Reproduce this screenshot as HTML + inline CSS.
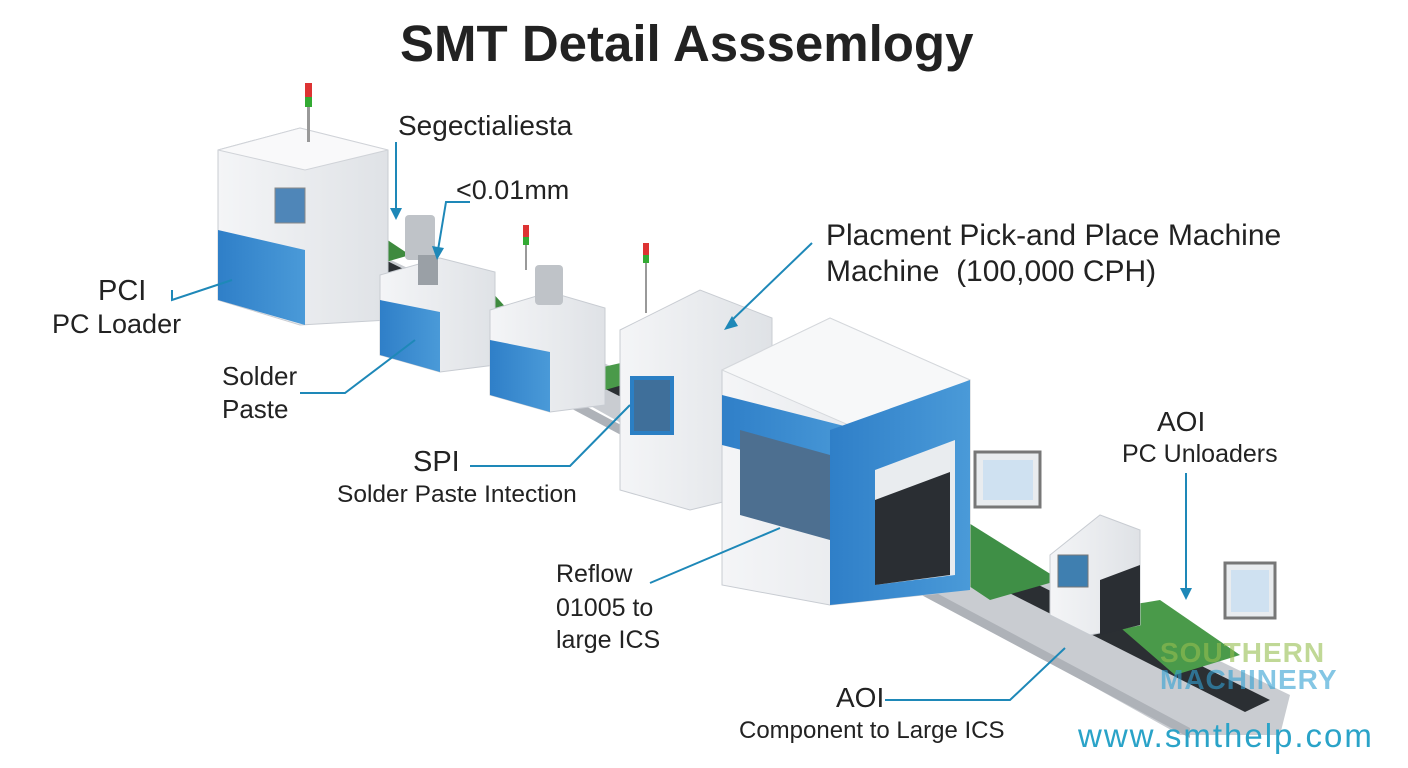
<!DOCTYPE html>
<html><head><meta charset="utf-8"><style>
html,body{margin:0;padding:0;background:#fff;}
#c{position:relative;width:1408px;height:768px;overflow:hidden;font-family:"Liberation Sans","DejaVu Sans",sans-serif;color:#222;}
.t{position:absolute;white-space:nowrap;line-height:1;}
svg{position:absolute;left:0;top:0;}
</style></head><body><div id="c">
<svg width="1408" height="768" viewBox="0 0 1408 768">
<defs>
<linearGradient id="bl" x1="0" x2="1"><stop offset="0" stop-color="#2f7fc8"/><stop offset="1" stop-color="#4a9ad8"/></linearGradient>
<linearGradient id="wh" x1="0" x2="1"><stop offset="0" stop-color="#f4f5f7"/><stop offset="1" stop-color="#dfe2e6"/></linearGradient>
</defs>
<polygon points="320,255 360,245 1290,695 1280,735 1180,735" fill="#c9ccd1"/>
<polygon points="330,250 355,245 1270,700 1245,712" fill="#2b2f33"/>
<polygon points="330,270 1190,728 1190,738 330,280" fill="#aeb2b8"/>
<polygon points="335,245 380,235 410,255 365,268" fill="#3e8a3e"/>
<polygon points="440,300 490,290 510,312 460,325" fill="#3e8a3e"/>
<polygon points="590,370 625,362 640,380 605,390" fill="#4a9a4a"/>
<polygon points="870,520 940,505 1060,580 990,600" fill="#3f8f46"/>
<polygon points="1100,610 1160,600 1240,655 1175,675" fill="#4a9a4a"/>
<polygon points="218,150 300,128 388,150 388,320 300,325 218,300" fill="url(#wh)" stroke="#c8ccd2"/>
<polygon points="218,150 300,128 388,150 305,170" fill="#f9f9fa" stroke="#d0d3d8"/>
<polygon points="218,230 305,250 305,325 218,300" fill="url(#bl)"/>
<rect x="275" y="188" width="30" height="35" fill="#4f86b8" stroke="#888"/>
<rect x="305" y="83" width="7" height="14" fill="#d33"/><rect x="305" y="97" width="7" height="10" fill="#3a3"/><rect x="307" y="107" width="3" height="35" fill="#999"/>
<polygon points="380,275 440,258 495,272 495,365 440,372 380,355" fill="url(#wh)" stroke="#c8ccd2"/>
<polygon points="380,300 440,312 440,372 380,355" fill="url(#bl)"/>
<rect x="405" y="215" width="30" height="45" fill="#bfc3c8" rx="4"/><rect x="418" y="255" width="20" height="30" fill="#9aa0a6"/>
<polygon points="490,310 550,292 605,308 605,405 550,412 490,395" fill="url(#wh)" stroke="#c8ccd2"/>
<polygon points="490,340 550,352 550,412 490,395" fill="url(#bl)"/>
<rect x="535" y="265" width="28" height="40" fill="#bfc3c8" rx="4"/>
<rect x="523" y="225" width="6" height="12" fill="#d33"/><rect x="523" y="237" width="6" height="8" fill="#3a3"/><rect x="525" y="245" width="2" height="25" fill="#999"/>
<polygon points="620,330 700,290 772,318 772,490 690,510 620,490" fill="url(#wh)" stroke="#c8ccd2"/>
<rect x="632" y="378" width="40" height="55" fill="#3f6f9a" stroke="#2b7fc4" stroke-width="4"/>
<rect x="643" y="243" width="6" height="12" fill="#d33"/><rect x="643" y="255" width="6" height="8" fill="#3a3"/><rect x="645" y="263" width="2" height="50" fill="#999"/>
<polygon points="722,370 830,318 970,380 970,590 830,605 722,585" fill="url(#wh)" stroke="#c8ccd2"/>
<polygon points="722,370 830,318 970,380 860,430" fill="#f7f8f9" stroke="#d5d8dc"/>
<polygon points="722,395 860,430 860,480 722,445" fill="url(#bl)"/>
<polygon points="830,430 970,380 970,590 830,605" fill="url(#bl)"/>
<polygon points="740,430 830,455 830,540 740,515" fill="#4d6f90"/>
<polygon points="875,470 955,440 955,575 875,585" fill="#e9ecef"/>
<polygon points="875,500 950,472 950,575 875,585" fill="#2a2e33"/>
<rect x="975" y="452" width="65" height="55" fill="#e9ecef" stroke="#777" stroke-width="3"/><rect x="983" y="460" width="50" height="40" fill="#cfe1f1"/>
<polygon points="1050,555 1100,515 1140,530 1140,625 1090,635 1050,615" fill="url(#wh)" stroke="#c8ccd2"/>
<rect x="1058" y="555" width="30" height="32" fill="#3f7fb0" stroke="#777"/>
<polygon points="1100,580 1140,565 1140,625 1100,635" fill="#2a2e33"/>
<rect x="1225" y="563" width="50" height="55" fill="#e9ecef" stroke="#777" stroke-width="3"/><rect x="1231" y="570" width="38" height="42" fill="#cfe1f1"/>
<g stroke="#1e88b8" stroke-width="2" fill="none">
<path d="M396,142 V210"/><path d="M470,202 H446 L438,250"/>
<path d="M812,243 L730,322"/>
<path d="M172,290 V300 L232,280"/>
<path d="M300,393 H345 L415,340"/>
<path d="M470,466 H570 L630,405"/>
<path d="M650,583 L780,528"/>
<path d="M1186,473 V590"/>
<path d="M885,700 H1010 L1065,648"/>
</g>
<g fill="#1e88b8"><polygon points="390,208 402,208 396,220"/><polygon points="432,246 444,248 437,260"/><polygon points="732,316 738,326 724,330"/><polygon points="1180,588 1192,588 1186,600"/></g>
</svg>
<div class="t" style="left:400px;top:18px;font-size:51px;font-weight:bold;color:#222">SMT Detail Asssemlogy</div>
<div class="t" style="left:398px;top:112px;font-size:28px">Segectialiesta</div>
<div class="t" style="left:456px;top:177px;font-size:27px">&lt;0.01mm</div>
<div class="t" style="left:826px;top:221px;font-size:30px">Placment Pick-and Place Machine</div>
<div class="t" style="left:826px;top:257px;font-size:30px">Machine&nbsp; (100,000 CPH)</div>
<div class="t" style="left:98px;top:277px;font-size:29px">PCI</div>
<div class="t" style="left:52px;top:311px;font-size:27px">PC Loader</div>
<div class="t" style="left:222px;top:363px;font-size:26px">Solder</div>
<div class="t" style="left:222px;top:396px;font-size:26px">Paste</div>
<div class="t" style="left:413px;top:448px;font-size:29px">SPI</div>
<div class="t" style="left:337px;top:483px;font-size:24.5px">Solder Paste Intection</div>
<div class="t" style="left:556px;top:562px;font-size:25px">Reflow</div>
<div class="t" style="left:556px;top:596px;font-size:25px">01005 to</div>
<div class="t" style="left:556px;top:628px;font-size:25px">large ICS</div>
<div class="t" style="left:1157px;top:408px;font-size:28px">AOI</div>
<div class="t" style="left:1122px;top:442px;font-size:25px">PC Unloaders</div>
<div class="t" style="left:836px;top:684px;font-size:28px">AOI</div>
<div class="t" style="left:739px;top:719px;font-size:24px">Component to Large ICS</div>
<div class="t" style="left:1160px;top:639px;font-size:28px;font-weight:bold;letter-spacing:1px;color:rgba(150,190,80,0.6)">SOUTHERN</div>
<div class="t" style="left:1160px;top:666px;font-size:28px;font-weight:bold;letter-spacing:1px;color:rgba(50,160,210,0.6)">MACHINERY</div>
<div class="t" style="left:1078px;top:719px;font-size:33px;letter-spacing:2px;color:#2aa3c8">www.smthelp.com</div>
</div></body></html>
